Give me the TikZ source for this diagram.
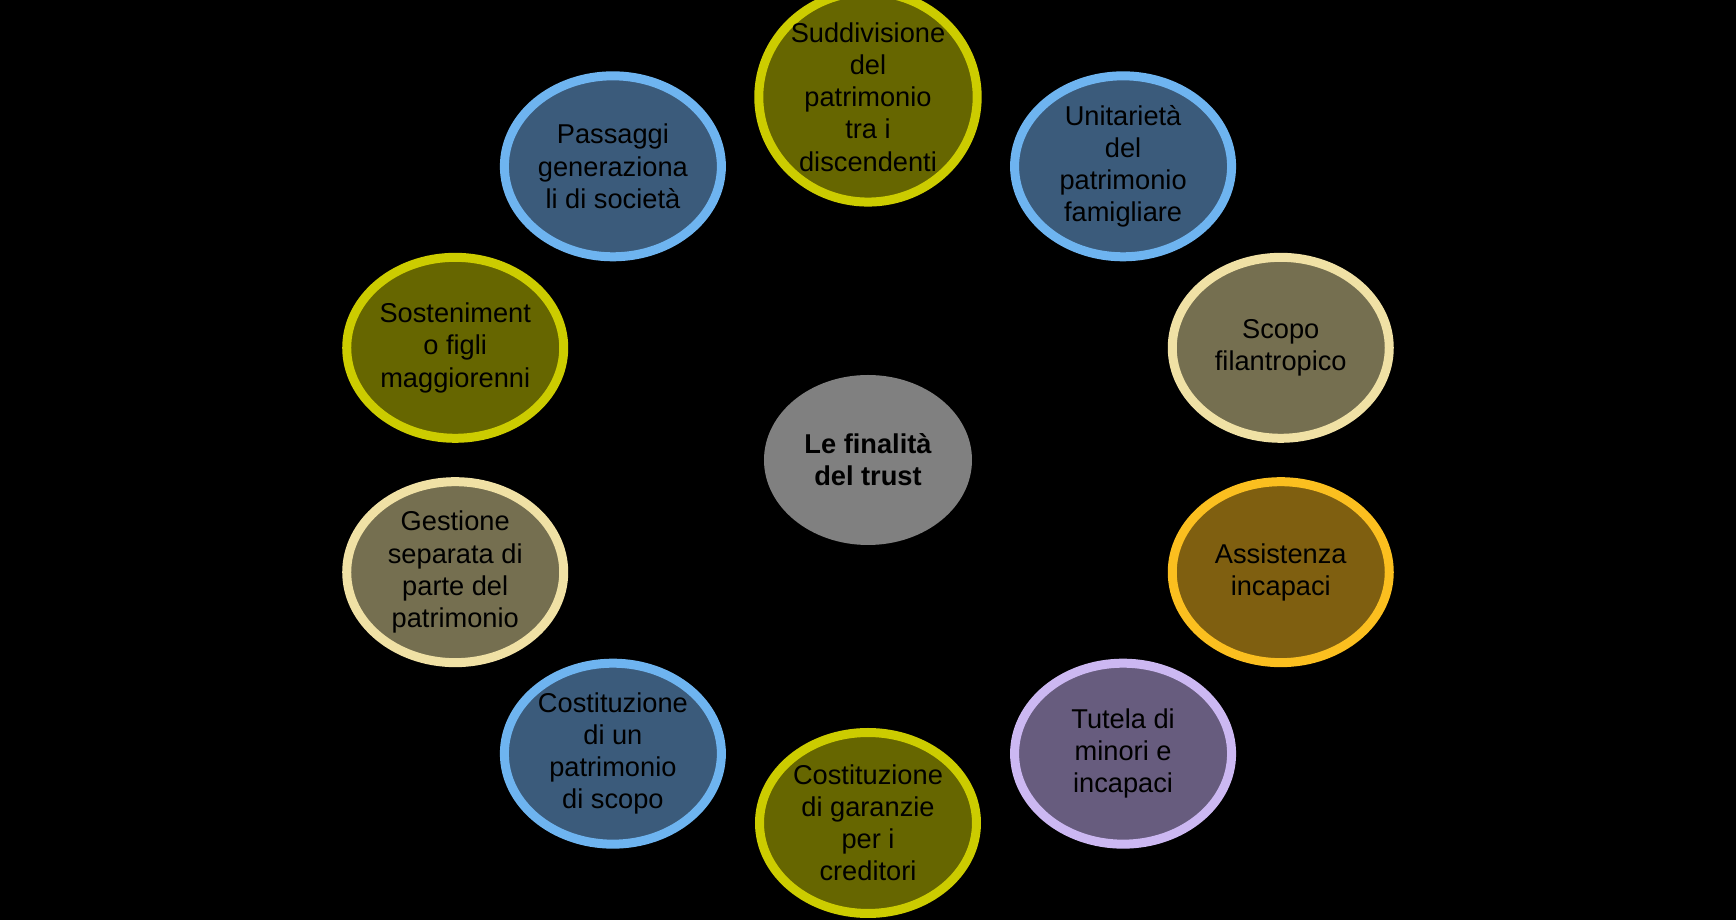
\documentclass[tikz,border=0pt]{standalone}
\usepackage{fontspec}
\setmainfont{Liberation Sans}
\usepackage{xcolor}
\usetikzlibrary{shapes.geometric}

\definecolor{olivefill}{HTML}{666600}
\definecolor{oliveedge}{HTML}{CCCC00}
\definecolor{bluefill}{HTML}{3B5B7B}
\definecolor{blueedge}{HTML}{6EB4F0}
\definecolor{tanfill}{HTML}{756F50}
\definecolor{tanedge}{HTML}{F0E1A5}
\definecolor{goldfill}{HTML}{7F5F10}
\definecolor{goldedge}{HTML}{FBBF1F}
\definecolor{lilacfill}{HTML}{675C7E}
\definecolor{lilacedge}{HTML}{CCB8F2}

\begin{document}
\begin{tikzpicture}[
    goal/.style={ellipse, line width=0.18cm, minimum width=4.34cm, minimum height=3.62cm, inner sep=0pt, align=center, text=black, font=\fontsize{15.5}{18.3}\selectfont},
    olivegoal/.style={goal, draw=oliveedge, fill=olivefill},
    bluegoal/.style={goal, draw=blueedge, fill=bluefill},
    tangoal/.style={goal, draw=tanedge, fill=tanfill},
    goldgoal/.style={goal, draw=goldedge, fill=goldfill},
    lilacgoal/.style={goal, draw=lilacedge, fill=lilacfill},
    hub/.style={ellipse, fill=black!50, minimum width=4.16cm, minimum height=3.4cm, inner sep=0pt, align=center, font=\fontsize{15.5}{18.3}\selectfont\bfseries}
]
\fill[black] (-17.36,-9.2) rectangle (17.36,9.2);
\useasboundingbox (-17.36,-9.2) rectangle (17.36,9.2);

\node[hub] (trust) at (0,0) {Le finalità\\del trust};

\node[olivegoal] (suddivisione) at (90:8.68cm and 7.26cm) {Suddivisione\\del\\patrimonio\\tra i\\discendenti};
\node[bluegoal] (unitarieta) at (54:8.68cm and 7.26cm) {Unitarietà\\del\\patrimonio\\famigliare};
\node[tangoal] (filantropico) at (18:8.68cm and 7.26cm) {Scopo\\filantropico};
\node[goldgoal] (assistenza) at (-18:8.68cm and 7.26cm) {Assistenza\\incapaci};
\node[lilacgoal] (tutela) at (-54:8.68cm and 7.26cm) {Tutela di\\minori e\\incapaci};
\node[olivegoal] (garanzie) at (-90:8.68cm and 7.26cm) {Costituzione\\di garanzie\\per i\\creditori};
\node[bluegoal] (scopo) at (-126:8.68cm and 7.26cm) {Costituzione\\di un\\patrimonio\\di scopo};
\node[tangoal] (gestione) at (-162:8.68cm and 7.26cm) {Gestione\\separata di\\parte del\\patrimonio};
\node[olivegoal] (sostenimento) at (162:8.68cm and 7.26cm) {Sosteniment\\o figli\\maggiorenni};
\node[bluegoal] (passaggi) at (126:8.68cm and 7.26cm) {Passaggi\\generaziona\\li di società};
\end{tikzpicture}
\end{document}
